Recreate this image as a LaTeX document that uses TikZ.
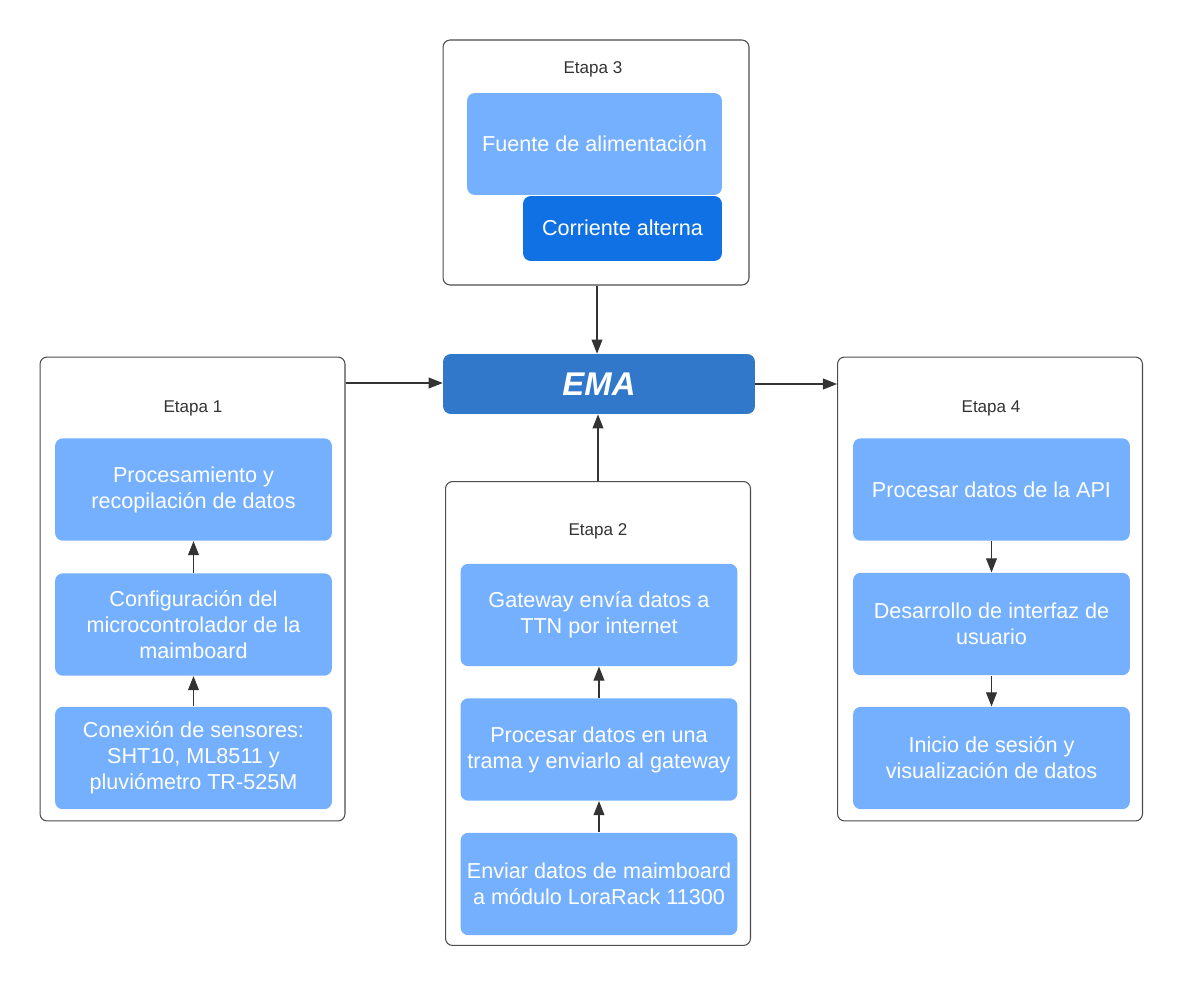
\documentclass[tikz,border=0pt]{standalone}
\usepackage{fontspec}
\setmainfont{Liberation Sans}
\usepackage{xcolor}
\usepackage{tikz}
\usetikzlibrary{arrows.meta,positioning,calc}

\definecolor{boxblue}{HTML}{75B0FF}
\definecolor{acblue}{HTML}{1071E5}
\definecolor{emablue}{HTML}{3278CA}
\definecolor{linegray}{HTML}{333333}

\tikzset{
    stage/.style={draw=black!70, line width=0.6pt, rounded corners=4pt,
        minimum width=6.1cm, minimum height=9.28cm},
    stagelabel/.style={text=linegray, font=\fontsize{9.7}{11.6}\selectfont},
    stepbox/.style={fill=boxblue, rounded corners=4.5pt, text=white, align=center,
        minimum width=5.54cm, minimum height=2.05cm, inner sep=0pt,
        font=\fontsize{12.3}{14.7}\selectfont},
    flow/.style={draw=linegray, line width=0.6pt, -{Triangle[length=8pt,width=6.2pt]}}
}

\begin{document}
\begin{tikzpicture}[x=0.02cm, y=-0.02cm]
    \useasboundingbox (0,0) rectangle (1184,987);

    % Etapa 3
    \node [stage, minimum width=6.12cm, minimum height=4.9cm] (s3) at (596, 162.5) {};
    \node [stagelabel] (s3lbl) at (593, 69) {Etapa 3};
    \node [stepbox, minimum width=5.1cm, minimum height=2.04cm] (fuente) at (594.5, 144) {Fuente de alimentación};
    \node [stepbox, fill=acblue, minimum width=3.98cm, minimum height=1.3cm] (ac) at (622.5, 228.5) {\raisebox{1.5pt}{Corriente alterna}};

    % EMA
    \node [fill=emablue, rounded corners=4.5pt, text=white, minimum width=6.24cm, minimum height=1.2cm,
        font=\fontsize{18.7}{22}\selectfont\bfseries\itshape] (ema) at (599, 384) {EMA};

    % Etapa 1
    \node [stage] (s1) at (192.5, 589) {};
    \node [stagelabel] (s1lbl) at (193, 408) {Etapa 1};
    \node [stepbox] (proc) at (193.5, 489.5) {Procesamiento y\\recopilación de datos};
    \node [stepbox] (config) at (193.5, 624.5) {Configuración del\\microcontrolador de la\\maimboard};
    \node [stepbox] (sens) at (193.5, 758) {Conexión de sensores:\\SHT10, ML8511 y\\pluviómetro TR-525M};
    \draw [flow] (sens) -- (config);
    \draw [flow] (config) -- (proc);

    % Etapa 2
    \node [stage] (s2) at (598, 713.5) {};
    \node [stagelabel] (s2lbl) at (598, 531) {Etapa 2};
    \node [stepbox] (gw) at (599, 615) {Gateway envía datos a\\TTN por internet};
    \node [stepbox] (trama) at (599, 749.5) {Procesar datos en una\\trama y enviarlo al gateway};
    \node [stepbox] (lora) at (599, 884) {Enviar datos de maimboard\\a módulo LoraRack 11300};
    \draw [flow] (lora) -- (trama);
    \draw [flow] (trama) -- (gw);

    % Etapa 4
    \node [stage] (s4) at (990, 589) {};
    \node [stagelabel] (s4lbl) at (991, 408) {Etapa 4};
    \node [stepbox] (api) at (991.5, 489.5) {Procesar datos de la API};
    \node [stepbox] (ui) at (991.5, 624) {Desarrollo de interfaz de\\usuario};
    \node [stepbox] (login) at (991.5, 758) {Inicio de sesión y\\visualización de datos};
    \draw [flow] (api) -- (ui);
    \draw [flow] (ui) -- (login);

    % stages to EMA
    \draw [flow] (s3.south -| 597,0) -- (ema.north -| 597,0);
    \draw [flow] (s2.north) -- (s2.north |- ema.south);
    \draw [flow] (s1.east |- 0,383) -- (ema.west |- 0,383);
    \draw [flow] (ema.east) -- (ema.east -| s4.west);
\end{tikzpicture}
\end{document}
